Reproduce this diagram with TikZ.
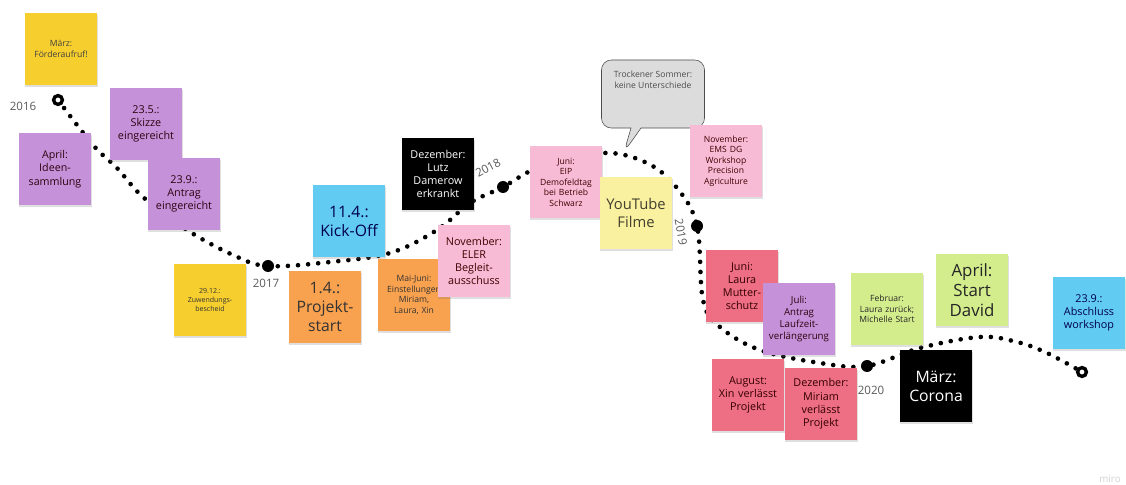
\documentclass[tikz,border=0pt]{standalone}
\usepackage{fontspec}
\setmainfont{Open Sans}
\usetikzlibrary{shadows,shapes.callouts}

\definecolor{noteyellow}{HTML}{F6CE2E}
\definecolor{notepurple}{HTML}{C592D9}
\definecolor{noteorange}{HTML}{F8A14E}
\definecolor{noteblue}{HTML}{62CBF2}
\definecolor{notepink}{HTML}{F7BBD6}
\definecolor{notered}{HTML}{EE6E84}
\definecolor{notelime}{HTML}{D3EC8C}
\definecolor{notepale}{HTML}{F9F0A0}
\definecolor{bubblegray}{HTML}{DCDCDC}

\tikzset{
  note/.style={rectangle, minimum width=1.8cm, minimum height=1.8cm, text width=1.75cm,
    align=center, inner sep=1pt, drop shadow={opacity=0.25, shadow xshift=0.3pt, shadow yshift=-1.3pt}},
  tinytext/.style={font=\fontsize{5}{6.3}\selectfont},
  lesstext/.style={font=\fontsize{6.1}{7.5}\selectfont},
  smalltext/.style={font=\fontsize{7.7}{9.4}\selectfont},
  midtext/.style={font=\fontsize{7.6}{9.6}\selectfont},
  bigtext/.style={font=\fontsize{11.2}{13.6}\selectfont},
  yearlabel/.style={font=\fontsize{8.2}{9.5}\selectfont, text=black!65},
  yeardot/.style={circle, fill=black, inner sep=0pt, minimum size=0.3cm},
  endring/.style={circle, draw=black, line width=2.4pt, fill=white, inner sep=0pt, minimum size=0.22cm},
  timeline/.style={line width=3.3pt, line cap=round, dash pattern=on 0pt off 7.2pt}
}

\begin{document}
\begin{tikzpicture}[x=0.025cm, y=-0.025cm]
\useasboundingbox (0,0) rectangle (1126,485);

\coordinate (start) at (58,100);
\coordinate (y2017) at (268,266);
\coordinate (y2018) at (503,187);
\coordinate (y2019) at (697,226);
\coordinate (y2020) at (867,366);
\coordinate (finish) at (1082,372);

\draw[timeline] plot[smooth, tension=0.6] coordinates {(start) (93,145) (117,168) (143,197) (187,230) (233,255) (y2017)
  (330,262) (390,253) (437,230) (470,203) (y2018) (540,167) (603,153) (647,163) (677,188) (y2019)
  (703,300) (720,327) (760,350) (820,363) (y2020) (920,348) (980,337) (1017,342) (1047,353) (finish)};

\node[yeardot] (dot2017) at (y2017) {};
\node[yeardot] (dot2018) at (y2018) {};
\node[yeardot] (dot2019) at (y2019) {};
\node[yeardot] (dot2020) at (y2020) {};
\node[endring] (ring16) at (start) {};
\node[endring] (ringend) at (finish) {};

\node[yearlabel] (lab2016) at (23,106) {2016};
\node[yearlabel] (lab2017) at (266,283) {2017};
\node[yearlabel, rotate=28] (lab2018) at (488,168) {2018};
\node[yearlabel, rotate=-80] (lab2019) at (681,232) {2019};
\node[yearlabel] (lab2020) at (871,390) {2020};

\node[note, fill=noteyellow, lesstext, text=black!75] (foerder) at (61,49) {März:\\Förderaufruf!};
\node[note, fill=notepurple, midtext, text=black!75!purple] (ideen) at (55,169) {April:\\Ideen-\\sammlung};
\node[note, fill=notepurple, smalltext, text=black!75!purple] (skizze) at (146,124) {23.5.:\\Skizze\\eingereicht};
\node[note, fill=notepurple, smalltext, text=black!75!purple] (antrag) at (184,194) {23.9.:\\Antrag\\eingereicht};
\node[note, fill=noteyellow, tinytext, text=black!80] (bescheid) at (210,300) {29.12.:\\Zuwendungs-\\bescheid};
\node[note, fill=noteorange, bigtext, text=black!80] (projekt) at (325,307) {1.4.:\\Projekt-\\start};
\node[note, fill=noteblue, bigtext, text=black!70!blue] (kickoff) at (349,221) {11.4.:\\Kick-Off};
\node[note, fill=noteorange, lesstext, text=black!80] (einstell) at (414,295) {Mai-Juni:\\Einstellungen\\Miriam,\\Laura, Xin};
\node[note, fill=black, smalltext, text=white] (lutz) at (438,174) {Dezember:\\Lutz\\Damerow\\erkrankt};
\node[note, fill=notepink, smalltext, text=black!75!red] (eler) at (474,261) {November:\\ELER\\Begleit-\\ausschuss};
\node[note, fill=notepink, lesstext, text=black!75!red] (eip) at (566,182) {Juni:\\EIP\\Demofeldtag\\bei Betrieb\\Schwarz};

\node[rectangle callout, rounded corners=7pt, draw=black!70, fill=bubblegray, minimum width=2.575cm,
  minimum height=1.7cm, callout absolute pointer={(624,152)}] (bubble) at (653,94) {};
\node[lesstext, align=center, text=black!70] (bubbletext) at (653,80) {Trockener Sommer:\\keine Unterschiede};

\node[note, fill=notepale, font=\fontsize{10.5}{13.2}\selectfont, text=black!70!olive] (youtube) at (636,213) {YouTube\\Filme};
\node[note, fill=notepink, lesstext, text=black!75!red] (ems) at (726,161) {November:\\EMS DG\\Workshop\\Precision\\Agriculture};
\node[note, fill=notered, smalltext, text=black!80!red] (mutter) at (742,286) {Juni:\\Laura\\Mutter-\\schutz};
\node[note, fill=notepurple, font=\fontsize{6.9}{8.6}\selectfont, text=black!75!purple] (laufzeit) at (799,319) {Juli:\\Antrag\\Laufzeit-\\verlängerung};
\node[note, fill=notered, smalltext, text=black!80!red] (xin) at (748,395) {August:\\Xin verlässt\\Projekt};
\node[note, fill=notered, smalltext, text=black!80!red] (miriam) at (821,404) {Dezember:\\Miriam\\verlässt\\Projekt};
\node[note, fill=notelime, lesstext, text=black!85] (laura) at (887,309) {Februar:\\Laura zurück;\\Michelle Start};
\node[note, fill=notelime, font=\fontsize{12}{14}\selectfont, text=black!85] (david) at (972,290) {April:\\Start\\David};
\node[note, fill=black, bigtext, text=white] (corona) at (936,386) {März:\\Corona};
\node[note, fill=noteblue, smalltext, text=black!70!blue] (abschluss) at (1089,313) {23.9.:\\Abschluss\\workshop};

\node[font=\fontsize{7}{8}\selectfont, text=black!18] (miro) at (1110,479) {miro};
\end{tikzpicture}
\end{document}
